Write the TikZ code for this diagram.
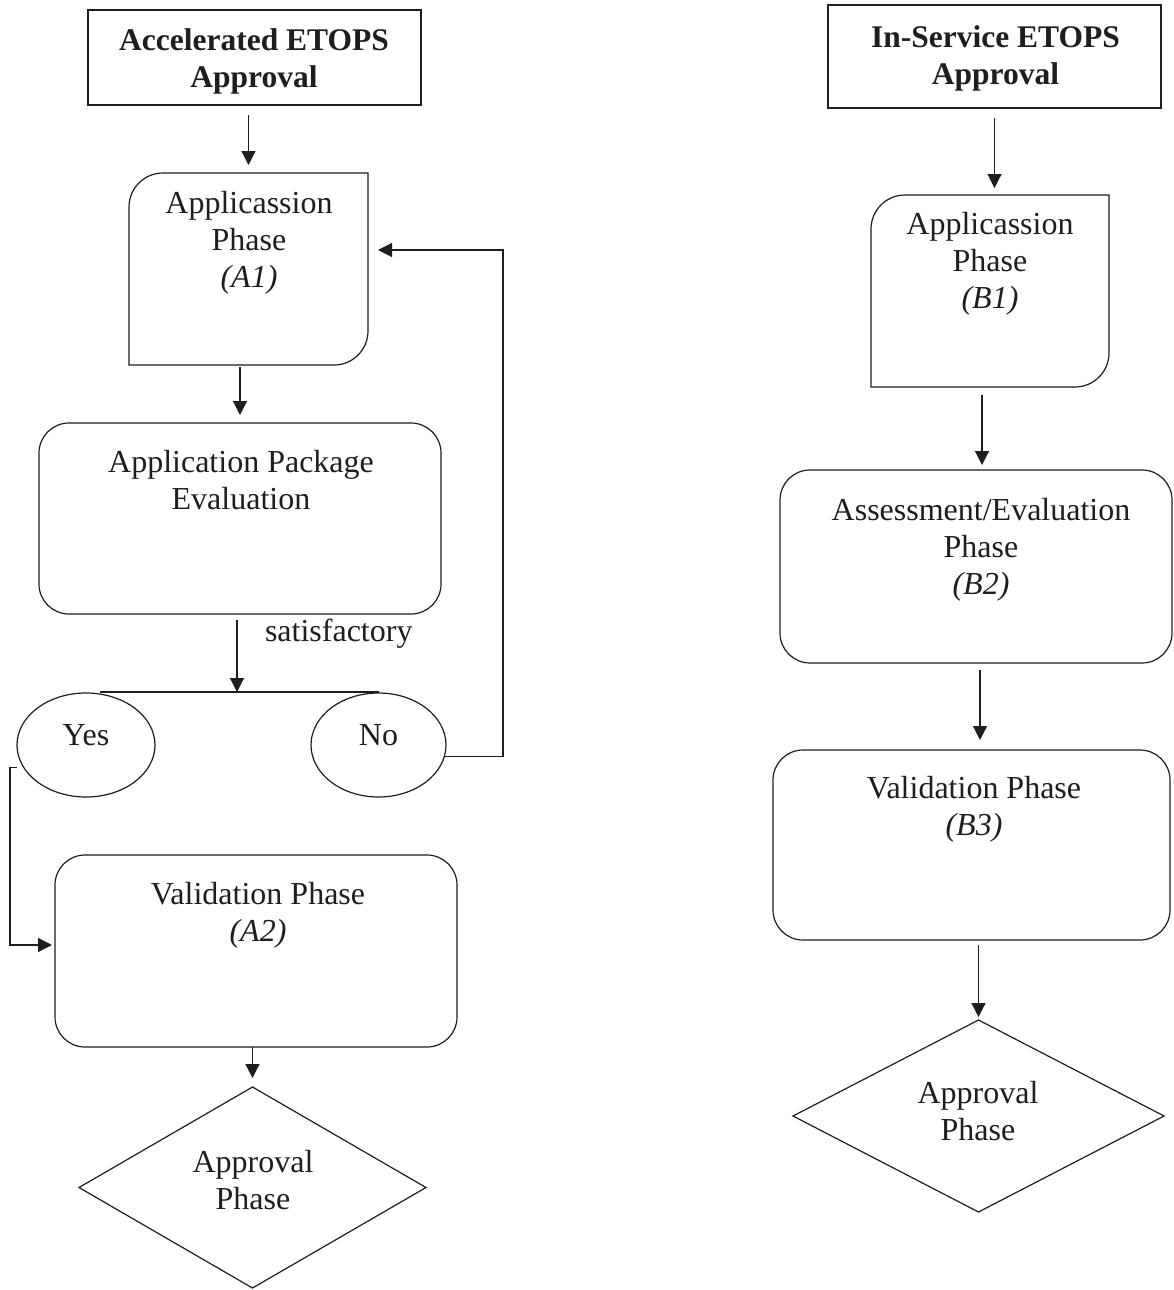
\documentclass[tikz,border=0pt]{standalone}
\usepackage{fontspec}
\setmainfont{Liberation Serif}
\usetikzlibrary{arrows.meta,shapes.geometric}
\definecolor{ink}{RGB}{30,30,30}
\begin{document}
\begin{tikzpicture}[x=1pt,y=-1pt,
  every node/.style={inner sep=0pt,outer sep=0pt},
  ln/.style={line width=1.2pt,draw=ink},
  arr/.style={ln,-{Triangle[length=14pt,width=14pt,fill=ink]}},
  txt/.style={align=center,font=\fontsize{32}{37}\selectfont,text=ink},
  ttl/.style={align=center,font=\fontsize{31.5}{37}\selectfont\bfseries,text=ink},
  plainbox/.style 2 args={rectangle,minimum width=#1,minimum height=#2},
  roundbox/.style 2 args={ln,draw,rectangle,rounded corners=30pt,minimum width=#1,minimum height=#2},
  oval/.style={ln,draw,ellipse,txt,minimum height=104pt,text depth=20pt}
]
\useasboundingbox (0,0) rectangle (1174,1290);
\fill[white] (0,0) rectangle (1174,1290);

% ---------- left column ----------
\node[ln,draw,plainbox={333pt}{95pt}] (tA) at (254.5,57.5) {};
\node[ttl] (tAt) at (254,61) {Accelerated ETOPS\\Approval};

\node[plainbox={239pt}{192pt}] (A1) at (248.5,269) {};
\draw[ln] (A1.north east) -- ([yshift=34pt]A1.south east)
  arc[start angle=0,end angle=-90,radius=34pt] -- (A1.south west)
  -- ([yshift=-34pt]A1.north west)
  arc[start angle=180,end angle=90,radius=34pt] -- cycle;
\node[txt] (A1t) at (249,243) {Applicassion\\Phase\\\textit{(A1)}};

\node[roundbox={402pt}{191pt}] (ev) at (240,518.5) {};
\node[txt] (evt) at (241,480) {Application Package\\Evaluation};

\node[txt,anchor=base west] (sat) at (265,641) {satisfactory};

\node[oval,minimum width=138pt] (Yes) at (86,745) {Yes};
\node[oval,minimum width=135pt] (No) at (378.5,745) {No};

\node[roundbox={402pt}{192pt}] (A2) at (256,951) {};
\node[txt] (A2t) at (258,915) {Validation Phase\\\textit{(A2)}};

\node[plainbox={347pt}{201pt}] (dA) at (252.5,1187.5) {};
\draw[ln] (dA.north) -- (dA.east) -- (dA.south) -- (dA.west) -- cycle;
\node[txt] (dAt) at (253,1180) {Approval\\Phase};

\coordinate (br) at (237,692);
\coordinate (nr) at (503,250);
\coordinate (yl) at (10,945);

\draw[arr,shorten <=10pt,shorten >=8pt] (A1.north |- tA.south) -- (A1.north);
\draw[arr,shorten <=2pt,shorten >=8pt] (ev.north |- A1.south) -- (ev.north);
\draw[arr,shorten <=6pt] (br |- ev.south) -- (br);
\draw[ln] (Yes.75 |- br) -- (No.north |- br);
\draw[arr,shorten >=10pt] (No.-10) -| (nr) -- (nr -| A1.east);
\draw[arr,shorten >=3pt] ([xshift=-7pt]Yes.200) -| (yl) -- (yl -| A2.west);
\draw[arr,shorten >=9pt] (dA.north |- A2.south) -- (dA.north);

% ---------- right column ----------
\node[ln,draw,plainbox={333pt}{103pt}] (tB) at (994.5,56.5) {};
\node[ttl] (tBt) at (995.5,58.5) {In-Service ETOPS\\Approval};

\node[plainbox={238pt}{192pt}] (B1) at (990,291) {};
\draw[ln] (B1.north east) -- ([yshift=34pt]B1.south east)
  arc[start angle=0,end angle=-90,radius=34pt] -- (B1.south west)
  -- ([yshift=-34pt]B1.north west)
  arc[start angle=180,end angle=90,radius=34pt] -- cycle;
\node[txt] (B1t) at (990,263.5) {Applicassion\\Phase\\\textit{(B1)}};

\node[roundbox={392pt}{193pt}] (B2) at (976,566.5) {};
\node[txt] (B2t) at (981,550) {Assessment/Evaluation\\Phase\\\textit{(B2)}};

\node[roundbox={397pt}{190pt}] (B3) at (971.5,845) {};
\node[txt] (B3t) at (974,809) {Validation Phase\\\textit{(B3)}};

\node[plainbox={371pt}{192pt}] (dB) at (978.5,1116) {};
\draw[ln] (dB.north) -- (dB.east) -- (dB.south) -- (dB.west) -- cycle;
\node[txt] (dBt) at (978,1111.5) {Approval\\Phase};

\draw[arr,shorten <=10pt,shorten >=7pt] (tB.south) -- (tB.south |- B1.north);
\draw[arr,shorten <=8pt,shorten >=5pt] ([xshift=6pt]B2.north |- B1.south) -- ([xshift=6pt]B2.north);
\draw[arr,shorten <=7pt,shorten >=10pt] ([xshift=4pt]B2.south) -- ([xshift=4pt]B2.south |- B3.north);
\draw[arr,shorten <=5pt,shorten >=3pt] (dB.north |- B3.south) -- (dB.north);
\end{tikzpicture}
\end{document}
